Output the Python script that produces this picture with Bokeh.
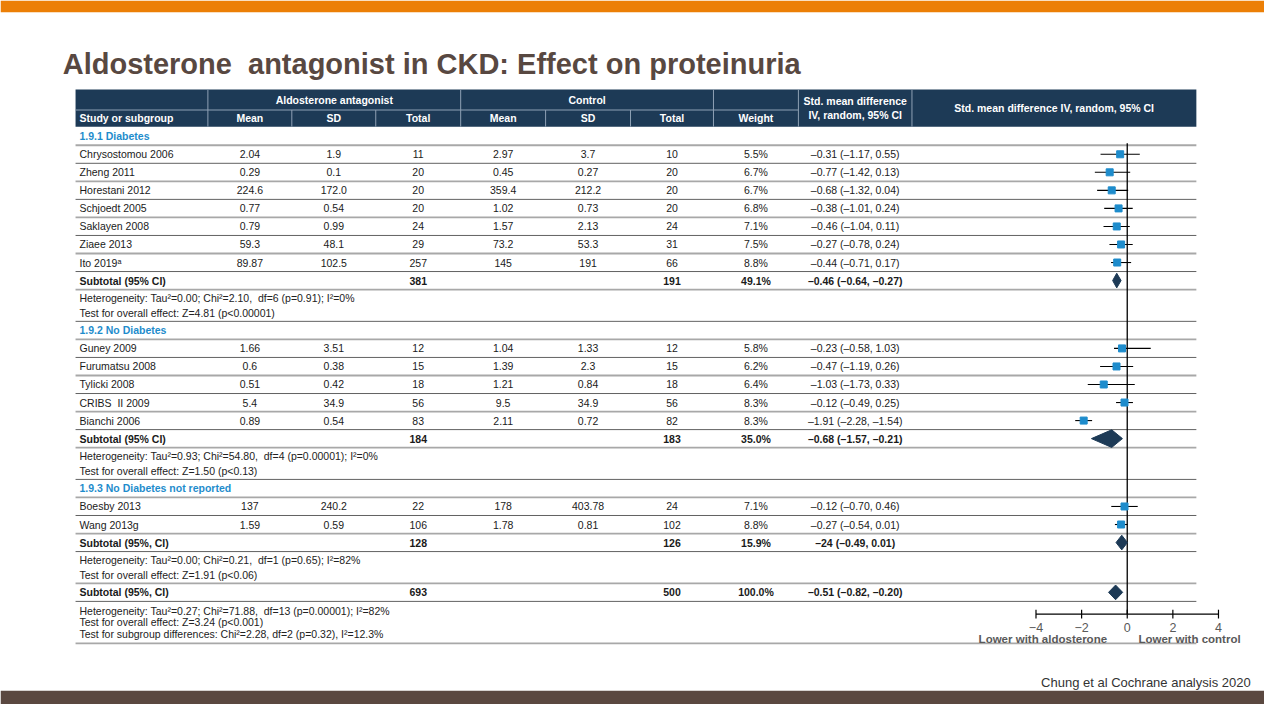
from bokeh.plotting import figure
from bokeh.models import Range1d, ColumnDataSource
from bokeh.core.properties import value
from bokeh.embed import file_html
from bokeh.resources import INLINE

# ---------------- data ----------------
title = "Aldosterone\u00a0 antagonist in CKD: Effect on proteinuria"
source_note = "Chung et al Cochrane analysis 2020"

group_names = ["1.9.1 Diabetes", "1.9.2 No Diabetes", "1.9.3 No Diabetes not reported"]
group_sizes = [7, 5, 2]

studies = ["Chrysostomou 2006", "Zheng 2011", "Horestani 2012", "Schjoedt 2005",
           "Saklayen 2008", "Ziaee 2013", "Ito 2019\u1d43",
           "Guney 2009", "Furumatsu 2008", "Tylicki 2008", "CRIBS\u00a0 II 2009", "Bianchi 2006",
           "Boesby 2013", "Wang 2013g"]
trt_mean = ["2.04", "0.29", "224.6", "0.77", "0.79", "59.3", "89.87",
            "1.66", "0.6", "0.51", "5.4", "0.89",
            "137", "1.59"]
trt_sd = ["1.9", "0.1", "172.0", "0.54", "0.99", "48.1", "102.5",
          "3.51", "0.38", "0.42", "34.9", "0.54",
          "240.2", "0.59"]
trt_n = ["11", "20", "20", "20", "24", "29", "257",
         "12", "15", "18", "56", "83",
         "22", "106"]
ctl_mean = ["2.97", "0.45", "359.4", "1.02", "1.57", "73.2", "145",
            "1.04", "1.39", "1.21", "9.5", "2.11",
            "178", "1.78"]
ctl_sd = ["3.7", "0.27", "212.2", "0.73", "2.13", "53.3", "191",
          "1.33", "2.3", "0.84", "34.9", "0.72",
          "403.78", "0.81"]
ctl_n = ["10", "20", "20", "20", "24", "31", "66",
         "12", "15", "18", "56", "82",
         "24", "102"]
weights = ["5.5%", "6.7%", "6.7%", "6.8%", "7.1%", "7.5%", "8.8%",
           "5.8%", "6.2%", "6.4%", "8.3%", "8.3%",
           "7.1%", "8.8%"]
smd = [-0.31, -0.77, -0.68, -0.38, -0.46, -0.27, -0.44,
       -0.23, -0.47, -1.03, -0.12, -1.91,
       -0.12, -0.27]
smd_lo = [-1.17, -1.42, -1.32, -1.01, -1.04, -0.78, -0.71,
          -0.58, -1.19, -1.73, -0.49, -2.28,
          -0.70, -0.54]
smd_hi = [0.55, 0.13, 0.04, 0.24, 0.11, 0.24, 0.17,
          1.03, 0.26, 0.33, 0.25, -1.54,
          0.46, 0.01]

sub_labels = ["Subtotal (95% CI)", "Subtotal (95% CI)", "Subtotal (95%, CI)", "Subtotal (95%, CI)"]
sub_trt_n = ["381", "184", "128", "693"]
sub_ctl_n = ["191", "183", "126", "500"]
sub_weight = ["49.1%", "35.0%", "15.9%", "100.0%"]
sub_smd = [-0.46, -0.68, -0.24, -0.51]
sub_lo = [-0.64, -1.57, -0.49, -0.82]
sub_hi = [-0.27, -0.21, 0.01, -0.20]
sub_ci_text = ["\u20130.46 (\u20130.64, \u20130.27)", "\u20130.68 (\u20131.57, \u20130.21)",
               "\u201324 (\u20130.49, 0.01)", "\u20130.51 (\u20130.82, \u20130.20)"]
het_text = [
    ["Heterogeneity: Tau\u00b2=0.00; Chi\u00b2=2.10,\u00a0 df=6 (p=0.91); I\u00b2=0%",
     "Test for overall effect: Z=4.81 (p<0.00001)"],
    ["Heterogeneity: Tau\u00b2=0.93; Chi\u00b2=54.80,\u00a0 df=4 (p=0.00001); I\u00b2=0%",
     "Test for overall effect: Z=1.50 (p<0.13)"],
    ["Heterogeneity: Tau\u00b2=0.00; Chi\u00b2=0.21,\u00a0 df=1 (p=0.65); I\u00b2=82%",
     "Test for overall effect: Z=1.91 (p<0.06)"],
    ["Heterogeneity: Tau\u00b2=0.27; Chi\u00b2=71.88,\u00a0 df=13 (p=0.00001); I\u00b2=82%",
     "Test for overall effect: Z=3.24 (p<0.001)",
     "Test for subgroup differences: Chi\u00b2=2.28, df=2 (p=0.32), I\u00b2=12.3%"],
]
axis_ticks = [-4, -2, 0, 2, 4]
axis_tick_labels = ["\u22124", "\u22122", "0", "2", "4"]
direction_labels = ["Lower with aldosterone", "Lower with control"]

header_top = ["Aldosterone antagonist", "Control"]
header_cols = ["Mean", "SD", "Total", "Mean", "SD", "Total", "Weight"]

# ---------------- styling / layout ----------------
FONT = "Liberation Sans"
NAVY = "#1d3a56"
BLUE = "#1e8ccc"
TXT = "#1a1a1a"
GRAY = "#595959"

W, H = 1264, 704
SW, SH = 1280, 720   # slide coordinate system
p = figure(width=W, height=H, x_range=Range1d(0, SW), y_range=Range1d(SH, 0),
           output_backend="svg", toolbar_location=None, min_border=0,
           x_axis_location=None, y_axis_location=None, outline_line_color=None)
p.grid.grid_line_color = None
p.background_fill_color = "white"
p.border_fill_color = "white"

# forest scale: value 0 at slide x 1141, 23.1 slide units per SMD unit
X0, S = 1141.0, 23.1
p.extra_x_ranges = {"forest": Range1d((0 - X0) / S, (SW - X0) / S)}


def txt(xs, ys, texts, size="10.5px", bold=False, color=TXT, align="left",
        baseline="middle", x_range_name="default"):
    style = "bold" if bold else "normal"
    src = ColumnDataSource(dict(x=list(xs), y=list(ys), t=list(texts)))
    p.text(x="x", y="y", text="t", source=src, text_font=value(FONT),
           text_font_size=size, text_font_style=style, text_color=color,
           text_align=align, text_baseline=baseline, x_range_name=x_range_name)


# top / bottom bars
p.quad(left=0, right=SW, top=0, bottom=12, color="#ec7f06", line_color=None)
p.quad(left=0, right=SW, top=706, bottom=SH, color="#5a4840", line_color=None)

# title & note
txt([63], [65], [title], size="29px", bold=True, color="#584841", baseline="alphabetic")
txt([1266], [697], [source_note], size="13px", color="#333333", align="right",
    baseline="alphabetic")

# table geometry
TL, TR = 76, 1211
col_edges = [76, 210, 295, 380, 466, 552, 638, 722, 808, 923, 1211]
centers = [(a + b) / 2 for a, b in zip(col_edges[:-1], col_edges[1:])]
num_cx = centers[1:8]      # Mean SD Total Mean SD Total Weight
ci_cx = centers[8]
forest_cx = centers[9]

# header
p.quad(left=TL, right=TR, top=91, bottom=129, color=NAVY, line_color=None)
hsep = "#8fa1b5"
p.segment(x0=[76], x1=[808], y0=[112], y1=[112], line_color=hsep, line_width=1)
p.segment(x0=[210, 466, 722, 808, 923], x1=[210, 466, 722, 808, 923],
          y0=[91] * 5, y1=[129] * 5, line_color=hsep, line_width=1)
p.segment(x0=[295, 380, 552, 638], x1=[295, 380, 552, 638],
          y0=[112] * 4, y1=[129] * 4, line_color=hsep, line_width=1)
txt([(210 + 466) / 2, (466 + 722) / 2], [101.5, 101.5], header_top, bold=True,
    color="white", align="center")
txt([80], [120.5], ["Study or subgroup"], bold=True, color="white")
txt(num_cx, [120.5] * 7, header_cols, bold=True, color="white", align="center")
txt([ci_cx, ci_cx], [102.5, 117.5], ["Std. mean difference", "IV, random, 95% CI"],
    bold=True, color="white", align="center")
txt([forest_cx], [110], ["Std. mean difference IV, random, 95% CI"], bold=True,
    color="white", align="center")


def fmt(v):
    s = f"{abs(v):.2f}"
    return ("\u2013" + s) if v < 0 else s


# rows
RH = 18.45
y = 129.6
sep_y = []
study_y = []
group_y = []
sub_y = []
het_y, het_t = [], []


def het_block(y, lines):
    n = len(lines)
    pad, sp = (9.0, 14.5) if n == 2 else (9.5, 12.0)
    for i, t in enumerate(lines):
        het_y.append(y + pad + i * sp)
        het_t.append(t)
    return y + 2 * pad + (n - 1) * sp


for g in range(len(group_names)):
    group_y.append(y + RH / 2)
    y += RH
    sep_y.append(y)
    for _ in range(group_sizes[g]):
        study_y.append(y + RH / 2)
        y += RH
        sep_y.append(y)
    sub_y.append(y + RH / 2)
    y += RH
    sep_y.append(y)
    y = het_block(y, het_text[g])
    sep_y.append(y)
# overall
sub_y.append(y + RH / 2)
total_top = y + RH
y += RH
sep_y.append(y)
y = het_block(y, het_text[3])
sep_y.append(y)

# separators
nsep = len(sep_y)
sep_src = ColumnDataSource(dict(
    x0=[TL] * nsep, x1=[TR] * nsep, y=sep_y,
    c=["#a8a8a8" if i % 2 == 0 else "#626262" for i in range(nsep)],
    w=[1.8 if i % 2 == 0 else 1.0 for i in range(nsep)]))
p.segment(x0="x0", x1="x1", y0="y", y1="y", source=sep_src,
          line_color="c", line_width="w")

# group labels
txt([80] * 3, group_y, group_names, bold=True, color=BLUE)

# study rows
ns = len(studies)
txt([80] * ns, study_y, studies)
for j, col in enumerate([trt_mean, trt_sd, trt_n, ctl_mean, ctl_sd, ctl_n, weights]):
    txt([num_cx[j]] * ns, study_y, col, align="center")
txt([ci_cx] * ns, study_y,
    [f"{fmt(e)} ({fmt(l)}, {fmt(h)})" for e, l, h in zip(smd, smd_lo, smd_hi)],
    align="center")

# subtotal rows
txt([80] * 4, sub_y, sub_labels, bold=True)
txt([num_cx[2]] * 4, sub_y, sub_trt_n, bold=True, align="center")
txt([num_cx[5]] * 4, sub_y, sub_ctl_n, bold=True, align="center")
txt([num_cx[6]] * 4, sub_y, sub_weight, bold=True, align="center")
txt([ci_cx] * 4, sub_y, sub_ci_text, bold=True, align="center")

# heterogeneity text
txt([80] * len(het_y), het_y, het_t, color="#222222")

# ---------------- forest plot ----------------
axis_y = total_top + 13.0
zero_top = group_y[0] + RH / 2 - 2
p.segment(x0=[0], x1=[0], y0=[zero_top], y1=[axis_y], line_color="black",
          line_width=1.3, x_range_name="forest")
p.segment(x0="lo", x1="hi", y0="y", y1="y", line_color="black", line_width=1.1,
          source=ColumnDataSource(dict(lo=smd_lo, hi=smd_hi, y=study_y)),
          x_range_name="forest")
p.scatter(x=smd, y=study_y, marker="square", size=7, color=BLUE, line_color=BLUE,
          x_range_name="forest")

dh = [7.5, 9.0, 7.5, 7.5]
xs = [[l, e, h, e] for l, e, h in zip(sub_lo, sub_smd, sub_hi)]
ys = [[yy, yy - d, yy, yy + d] for yy, d in zip(sub_y, dh)]
p.patches(xs=xs, ys=ys, color=NAVY, line_color=NAVY, x_range_name="forest")

# axis
p.segment(x0=[axis_ticks[0]], x1=[axis_ticks[-1]], y0=[axis_y], y1=[axis_y],
          line_color="black", line_width=1.2, x_range_name="forest")
p.segment(x0=axis_ticks, x1=axis_ticks, y0=[axis_y - 4.5] * 5, y1=[axis_y + 4.5] * 5,
          line_color="black", line_width=1.2, x_range_name="forest")
txt(axis_ticks, [axis_y + 13.5] * 5, axis_tick_labels, size="12.5px", color=GRAY,
    align="center", x_range_name="forest")
txt([-3.7, 2.73], [axis_y + 25] * 2, direction_labels, size="11.5px", bold=True,
    color=GRAY, align="center", x_range_name="forest")

open("out.html", "w").write(file_html(p, INLINE))
